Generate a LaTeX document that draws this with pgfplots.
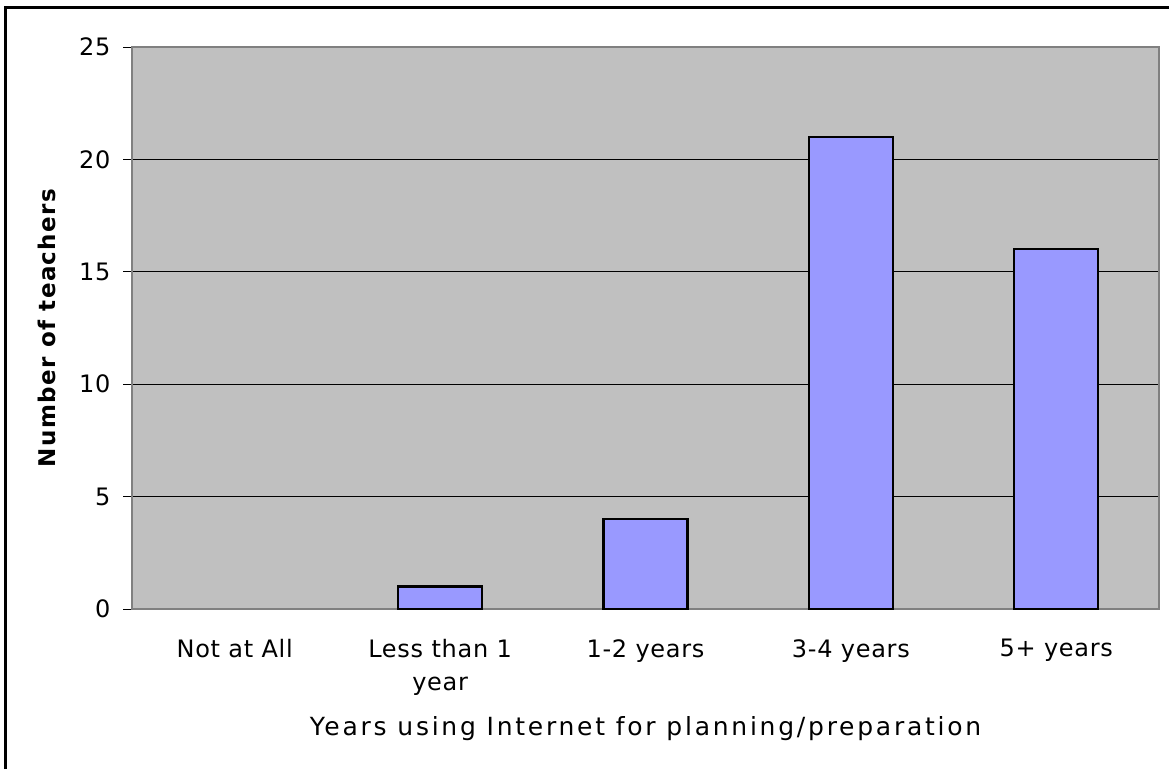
\documentclass[border=0pt]{standalone}
\usepackage{pgfplots}
\pgfplotsset{compat=1.18}
\usepackage{fontspec}
\setmainfont{DejaVu Sans}
\newfontfamily\xlabfont[LetterSpace=11]{DejaVu Sans}
\newfontfamily\ylabfont[LetterSpace=6]{DejaVu Sans}
\newfontfamily\tickfont[LetterSpace=3]{DejaVu Sans}
\definecolor{plotgray}{HTML}{C0C0C0}
\definecolor{barblue}{HTML}{9999FF}
\definecolor{framegray}{HTML}{808080}
\begin{document}
\begin{tikzpicture}[x=1pt,y=1pt]
\path[use as bounding box] (0,0) rectangle (1169,769);
\draw[line width=3pt] (5.5,0) -- (5.5,761.5) -- (1169,761.5);
\begin{axis}[
  at={(132pt,160pt)}, anchor=south west,
  scale only axis, width=1027pt, height=562pt,
  xmin=-0.5, xmax=4.5, ymin=0, ymax=25,
  axis background/.style={fill=plotgray},
  axis line style={draw=framegray, line width=1.5pt},
  ytick={0,5,10,15,20,25},
  ymajorgrids, grid style={black, line width=0.8pt},
  ytick pos=left, tick align=outside,
  major tick length=9pt,
  tick style={black, line width=0.8pt},
  xtick={0,1,2,3,4},
  xticklabels={Not at All, {Less than 1\\year}, 1-2 years, 3-4 years, 5+ years},
  x tick style={draw=none},
  extra x ticks={-0.5,0.5,1.5,2.5,3.5,4.5},
  extra x tick labels={},
  extra x tick style={grid=none, xtick pos=bottom, tick align=outside, major tick length=9pt, tick style={black, line width=0.8pt, draw=black}},
  xtick pos=bottom,
  /pgf/number format/assume math mode=true,
  yticklabel style={font=\tickfont\fontsize{24}{28}\selectfont, anchor=east, xshift=-9pt},
  xticklabel style={font=\tickfont\fontsize{24}{33}\selectfont, align=center, anchor=north, yshift=-21pt, inner sep=0pt},
  xlabel={Years using Internet for planning/preparation},
  ylabel={\bfseries Number of teachers},
  xlabel style={font=\xlabfont\fontsize{25}{29}\selectfont, at={(axis description cs:0.5,-0.2135)}, anchor=center},
  ylabel style={font=\ylabfont\fontsize{23}{27}\selectfont, at={(axis description cs:-0.0829,0.5)}, anchor=center},
  clip=false,
]
\addplot[ybar, bar width=84pt, fill=barblue, draw=black, line width=2.2pt]
  coordinates {(1,1) (2,4) (3,21) (4,16)};
\end{axis}
\end{tikzpicture}
\end{document}
